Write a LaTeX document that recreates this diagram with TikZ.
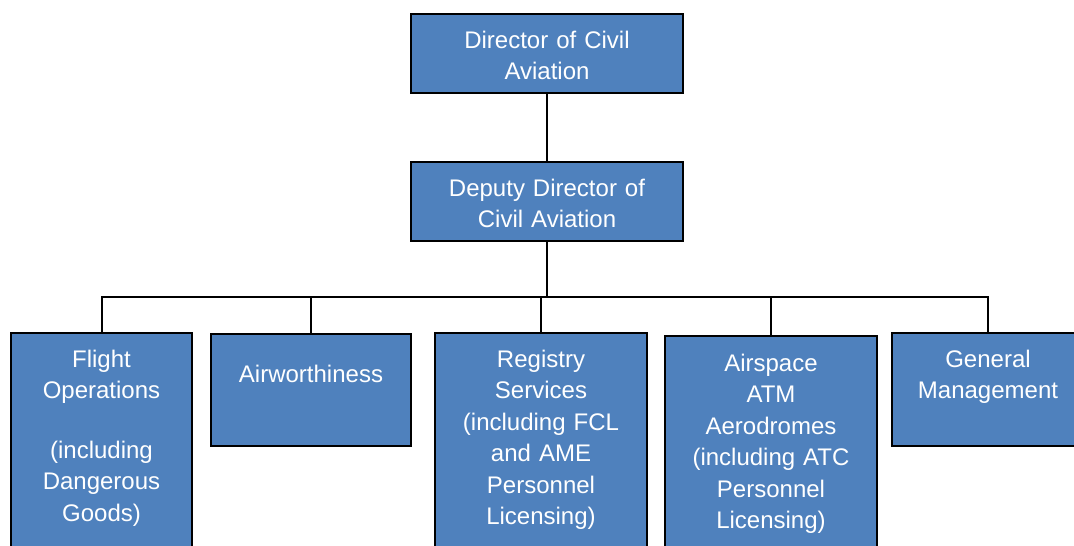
\documentclass[tikz,border=0pt]{standalone}
\usepackage{fontspec}
\setmainfont{Liberation Sans}
\definecolor{unitblue}{HTML}{4F81BD}
\begin{document}
\begin{tikzpicture}[x=1pt, y=-1pt, line width=2pt,
		unit/.style={draw=black, fill=unitblue, text=white, anchor=north, align=center,
			inner sep=0pt, text width=#1, text height=34pt,
			font=\fontsize{24}{31.5}\selectfont},
		link/.style={draw=black, line width=2pt}
		]
	\useasboundingbox (0,0) rectangle (1074,546);
	\clip (0,0) rectangle (1074,546);
	\node [unit=272pt, text depth=45pt] (dca) at (547,13) {Director of Civil\\Aviation};
	\node [unit=272pt, text depth=45pt] (ddca) at (547,161) {Deputy Director of\\Civil Aviation};
	\coordinate (bar) at (544,297);
	\node [unit=181pt, text depth=190pt] (flight) at (101.5,332)
		{Flight\\Operations\\[28pt](including\\Dangerous\\Goods)};
	\node [unit=200pt, text height=48pt, text depth=64pt] (airworth) at (311,333) {Airworthiness};
	\node [unit=212pt, text depth=190pt] (registry) at (541,332)
		{Registry\\Services\\(including FCL\\and AME\\Personnel\\Licensing)};
	\node [unit=212pt, text height=35pt, text depth=186pt] (airspace) at (771,335)
		{Airspace\\ATM\\Aerodromes\\(including ATC\\Personnel\\Licensing)};
	\node [unit=192pt, text depth=79pt] (gm) at (988,332) {General\\Management};
	% connectors
	\draw [link] (dca) -- (ddca);
	\draw [link] (ddca) -- (ddca |- bar);
	\draw [link] (flight.north) |- (gm.north |- bar) -- (gm.north);
	\foreach \u in {airworth, registry, airspace}
		\draw [link] (\u.north) -- (\u.north |- bar);
\end{tikzpicture}
\end{document}
